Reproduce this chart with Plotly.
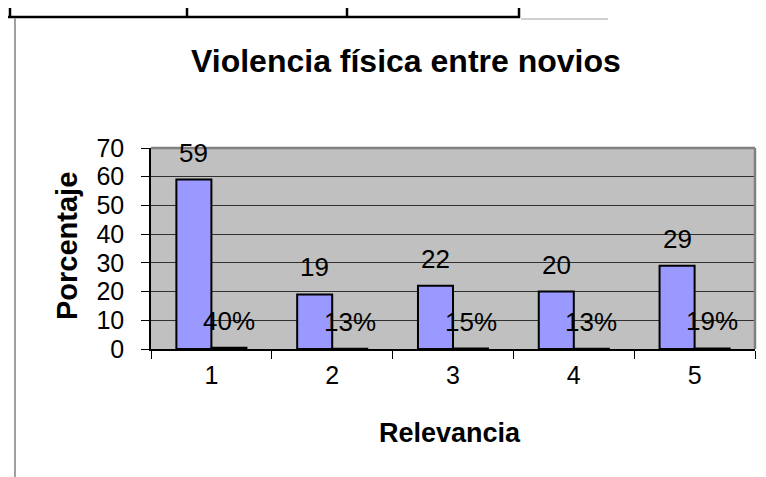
import plotly.graph_objects as go

# ---- data ----
categories = [1, 2, 3, 4, 5]
cat_labels = ["1", "2", "3", "4", "5"]
porcentaje = [59, 19, 22, 20, 29]
proporcion = [0.40, 0.13, 0.15, 0.13, 0.19]
y_ticks = [0, 10, 20, 30, 40, 50, 60, 70]

title_text = "Violencia física entre novios"
x_title = "Relevancia"
y_title = "Porcentaje"

# ---- geometry ----
W, H = 766, 477
ML, MR, MT, MB = 143, 19, 140, 136
PW, PH = W - ML - MR, H - MT - MB

def px_x(px):
    return (px - ML) / PW

def px_y(py):
    return (H - MB - py) / PH

FONT = "Liberation Sans, Arial, sans-serif"
BARGAP = 0.42
half = (1 - BARGAP) / 4  # offset of each bar centre in a 2-bar group

fig = go.Figure()
fig.add_trace(go.Bar(
    x=categories, y=porcentaje, name="Porcentaje",
    marker=dict(color="#9999FF", line=dict(color="black", width=2)),
))
fig.add_trace(go.Bar(
    x=categories, y=proporcion, name="Proporción",
    marker=dict(color="#993366", line=dict(color="black", width=2)),
))

annotations = []
for c, v in zip(categories, porcentaje):
    annotations.append(dict(x=c - half, y=v, xref="x", yref="y", text=str(v),
                            showarrow=False, yanchor="middle", yshift=27,
                            font=dict(family=FONT, size=26, color="black")))
for c, v in zip(categories, proporcion):
    annotations.append(dict(x=c + half, y=v, xref="x", yref="y", text=f"{round(v*100)}%",
                            showarrow=False, yanchor="middle", yshift=27,
                            font=dict(family=FONT, size=26, color="black")))

annotations.append(dict(x=px_x(398), y=px_y(53), xref="paper", yref="paper",
                        text=f"<b>{title_text}</b>", showarrow=False,
                        xanchor="center", yanchor="middle",
                        font=dict(family=FONT, size=32, color="black")))
annotations.append(dict(x=px_x(442), y=px_y(425), xref="paper", yref="paper",
                        text=f"<b>{x_title}</b>", showarrow=False,
                        xanchor="center", yanchor="middle",
                        font=dict(family=FONT, size=27, color="black")))
annotations.append(dict(x=px_x(59), y=px_y(238), xref="paper", yref="paper",
                        text=f"<b>{y_title}</b>", showarrow=False, textangle=-90,
                        xanchor="center", yanchor="middle",
                        font=dict(family=FONT, size=29, color="black")))

shapes = [
    # plot area border (top/right)
    dict(type="line", xref="paper", yref="paper", x0=0, x1=1, y0=1, y1=1,
         line=dict(color="#808080", width=2.5)),
    dict(type="line", xref="paper", yref="paper", x0=1, x1=1, y0=0, y1=1,
         line=dict(color="#808080", width=2.5)),
    # table fragment at top
    dict(type="line", xref="paper", yref="paper", x0=px_x(0), x1=px_x(512),
         y0=px_y(9), y1=px_y(9), line=dict(color="black", width=2.5)),
    dict(type="line", xref="paper", yref="paper", x0=px_x(513), x1=px_x(600),
         y0=px_y(11), y1=px_y(11), line=dict(color="#A0A0A0", width=1)),
    # left page border
    dict(type="line", xref="paper", yref="paper", x0=px_x(7), x1=px_x(7),
         y0=px_y(10), y1=px_y(477), line=dict(color="#A0A0A0", width=2)),
]
for vx in [2, 179, 339, 511]:
    shapes.append(dict(type="line", xref="paper", yref="paper", x0=px_x(vx), x1=px_x(vx),
                       y0=px_y(0), y1=px_y(10), line=dict(color="black", width=2.5)))

fig.update_layout(
    width=W, height=H,
    margin=dict(l=ML, r=MR, t=MT, b=MB, pad=0),
    paper_bgcolor="white", plot_bgcolor="#C0C0C0",
    barmode="group", bargap=BARGAP, bargroupgap=0,
    showlegend=False,
    font=dict(family=FONT, color="black"),
    annotations=annotations, shapes=shapes,
)
fig.update_xaxes(
    range=[0.5, 5.5], tickvals=categories, ticktext=cat_labels,
    ticks="", showgrid=False, zeroline=False,
    showline=True, linecolor="black", linewidth=1.5,
    tickfont=dict(family=FONT, size=25, color="black"),
    ticklabelstandoff=3,
    minor=dict(tickvals=[0.5, 1.5, 2.5, 3.5, 4.5, 5.5], ticks="outside",
               ticklen=8, tickcolor="black", tickwidth=1, showgrid=False),
)
fig.update_yaxes(
    range=[0, 70], tickvals=y_ticks, ticktext=[str(t) for t in y_ticks],
    ticks="outside", ticklen=8, tickcolor="black", tickwidth=1,
    showgrid=True, gridcolor="#303030", gridwidth=1, zeroline=False,
    showline=True, linecolor="black", linewidth=1.5,
    tickfont=dict(family=FONT, size=25, color="black"),
    ticklabelstandoff=12,
)

fig.write_html("out.html")
